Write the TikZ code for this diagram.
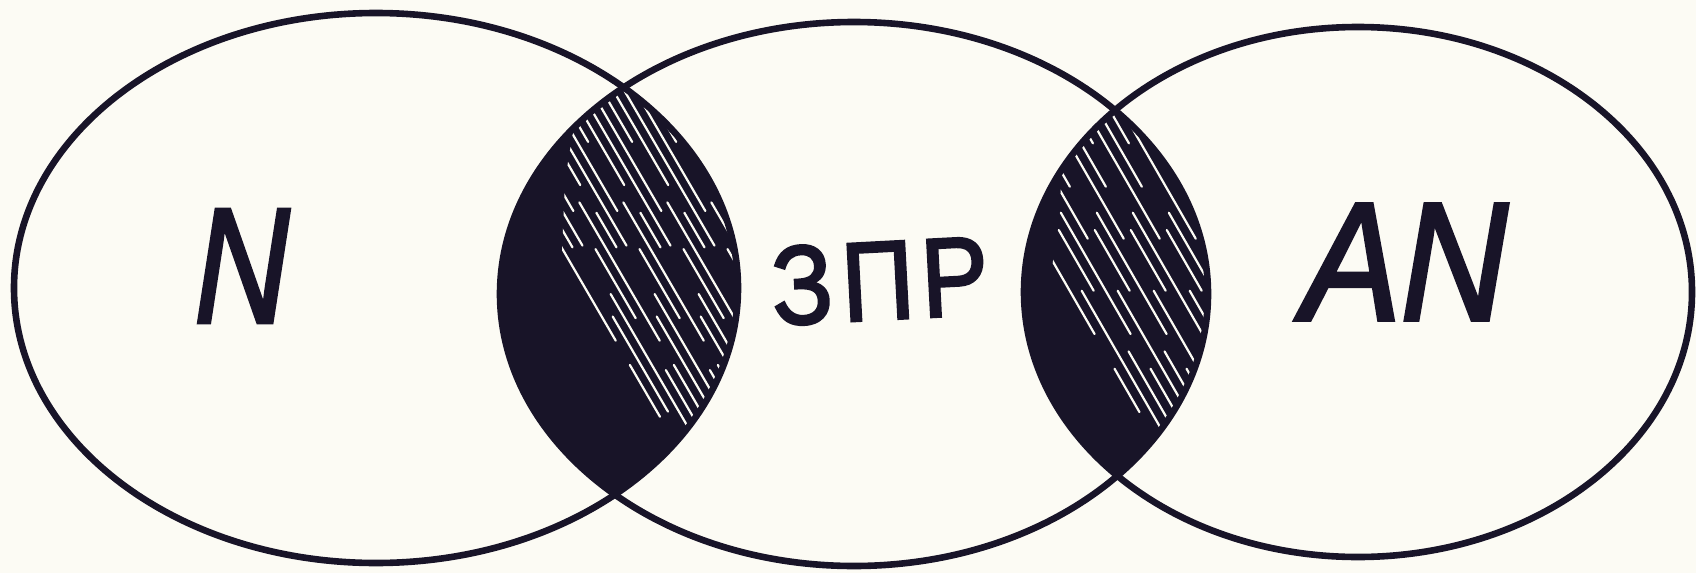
\documentclass[tikz,border=0pt]{standalone}
\usepackage{fontspec}
\setmainfont{Liberation Sans}
\newfontfamily\inkfont[FakeBold=2.5]{Liberation Sans}
\definecolor{paper}{RGB}{252,251,244}
\definecolor{ink}{RGB}{24,20,40}
\begin{document}
\begin{tikzpicture}[x=0.5pt,y=-0.5pt]
\tikzset{
  ring/.style={draw=ink, line width=3.3pt},
  streak/.style={draw=paper, line width=1.1pt, line cap=round},
  lbl/.style={inner sep=0pt, text=ink}
}
\useasboundingbox (0,0) rectangle (1696,573);
\fill[paper] (0,0) rectangle (1696,573);
% lens left (left ellipse ∩ middle ellipse)
\begin{scope}
  \clip (376,288) ellipse [x radius=181pt, y radius=137.5pt];
  \fill[ink] (854,294) ellipse [x radius=177pt, y radius=136pt];
  \clip (585,60) -- (800,60) -- (800,540) -- (625,540) -- (585,420) -- (560,300) -- (565,180) -- cycle;
  \foreach \x [count=\i] in {470,481,...,760}{
    \pgfmathtruncatemacro{\m}{mod(\i,4)}
    \ifcase\m
      \draw[streak, dash pattern=on 70pt off 22pt on 40pt off 30pt] (\x,90) -- ++(250,430);
    \or
      \draw[streak, dash pattern=on 30pt off 35pt on 80pt off 14pt] (\x,90) -- ++(250,430);
    \or
      \draw[streak, dash pattern=on 55pt off 16pt on 20pt off 40pt] (\x,90) -- ++(250,430);
    \else
      \draw[streak, dash pattern=on 90pt off 28pt] (\x,90) -- ++(250,430);
    \fi
  }
\end{scope}
% lens right (middle ellipse ∩ right ellipse)
\begin{scope}
  \clip (854,294) ellipse [x radius=177pt, y radius=136pt];
  \fill[ink] (1358,292) ellipse [x radius=167pt, y radius=132.5pt];
  \clip (1070,60) -- (1260,60) -- (1260,540) -- (1100,540) -- (1070,420) -- (1045,330) -- (1060,200) -- cycle;
  \foreach \x [count=\i] in {960,972,...,1200}{
    \pgfmathtruncatemacro{\m}{mod(\i,3)}
    \ifcase\m
      \draw[streak, dash pattern=on 50pt off 25pt on 35pt off 35pt] (\x,100) -- ++(230,400);
    \or
      \draw[streak, dash pattern=on 25pt off 40pt on 70pt off 20pt] (\x,100) -- ++(230,400);
    \else
      \draw[streak, dash pattern=on 80pt off 30pt] (\x,100) -- ++(230,400);
    \fi
  }
\end{scope}
% the three sets
\draw[ring] (376,288) ellipse [x radius=181pt, y radius=137.5pt];
\draw[ring] (854,294) ellipse [x radius=177pt, y radius=136pt];
\draw[ring] (1358,292) ellipse [x radius=167pt, y radius=132.5pt];
% labels
\node[lbl, font=\inkfont\itshape\fontsize{82}{82}\selectfont, xscale=0.8] (n) at (242,266) {N};
\node[lbl, font=\inkfont\fontsize{56}{56}\selectfont, rotate=3, xscale=0.9] (zpr) at (880,281) {З\kern5ptП\kern4ptР};
\node[lbl, font=\inkfont\itshape\fontsize{84}{84}\selectfont, xscale=0.88] (an) at (1405,262) {AN};
\end{tikzpicture}
\end{document}
